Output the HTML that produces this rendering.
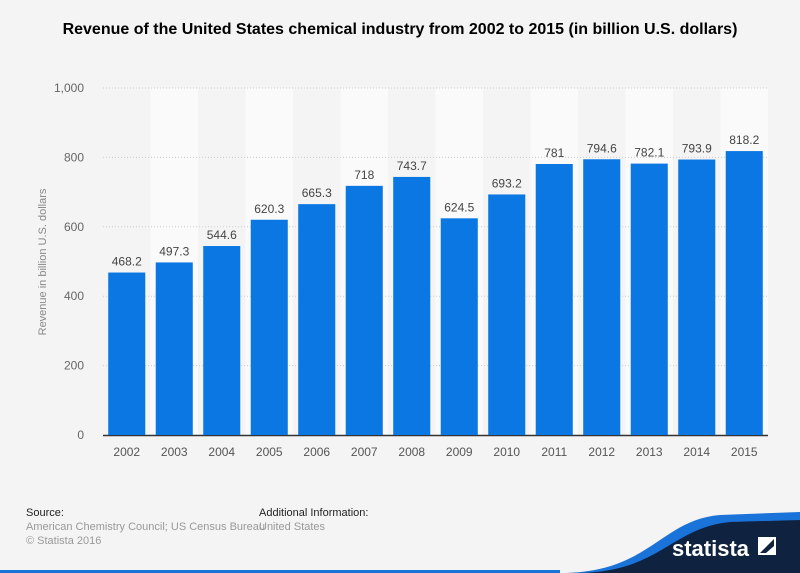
<!DOCTYPE html>
<html><head><meta charset="utf-8"><style>
body{margin:0;width:800px;height:573px;background:#f4f4f4;font-family:"Liberation Sans",sans-serif;overflow:hidden;position:relative}
#title{position:absolute;top:18px;left:40px;width:720px;text-align:center;font-weight:bold;font-size:16px;line-height:24px;color:#000}
.ft{position:absolute;font-size:11px;color:#999;line-height:14px}
.ft b{font-weight:normal;color:#222}
</style></head><body>
<div id="title">Revenue of the United States chemical industry from 2002 to 2015 (in billion U.S. dollars)</div>
<svg id="chart" width="800" height="573" style="position:absolute;top:0;left:0">
<g id="bands"></g><g id="grid"></g><g id="bars"></g><g id="labels"></g>
<text transform="translate(46,262) rotate(-90)" text-anchor="middle" font-size="11" fill="#888">Revenue in billion U.S. dollars</text>
<g>
<path d="M560 573 C650 573 660 520 720 515 L800 512 L800 573 Z" fill="#1a73d9"/>
<path d="M575 573 C660 573 670 528 730 522 L800 520 L800 573 Z" fill="#0f2240"/>
<text x="672" y="556" font-size="22" font-weight="bold" fill="#fff">statista</text>
<rect x="758" y="537" width="18" height="18" fill="#fff"/>
<path d="M760 553 L774 539 L774 546 L766 553 Z" fill="#0f2240"/>
</g>
<rect x="0" y="570" width="560" height="3" fill="#1a73d9"/>
</svg>
<div class="ft" style="left:26px;top:506px"><b>Source:</b><br>American Chemistry Council; US Census Bureau<br>© Statista 2016</div>
<div class="ft" style="left:259px;top:506px"><b>Additional Information:</b><br>United States</div>
<script>
const categories=["2002","2003","2004","2005","2006","2007","2008","2009","2010","2011","2012","2013","2014","2015"];
const values=[468.2,497.3,544.6,620.3,665.3,718,743.7,624.5,693.2,781,794.6,782.1,793.9,818.2];
const valueLabels=["468.2","497.3","544.6","620.3","665.3","718","743.7","624.5","693.2","781","794.6","782.1","793.9","818.2"];
const yTicks=[0,200,400,600,800,1000];
const yTickLabels=["0","200","400","600","800","1,000"];
const NS="http://www.w3.org/2000/svg";
const X0=103,X1=768,Y0=435,Y1=88,YMAX=1000;
const band=(X1-X0)/categories.length;
const x=i=>X0+i*band;
const y=v=>Y0-(v/YMAX)*(Y0-Y1);
function mk(tag,attrs,parent){const e=document.createElementNS(NS,tag);for(const k in attrs)e.setAttribute(k,attrs[k]);document.getElementById(parent).appendChild(e);return e;}
categories.forEach((c,i)=>{
 if(i%2==1){const b=mk('rect',{x:x(i),y:Y1,width:band,height:Y0-Y1,fill:'#fafafa'},'bands');
 
 }
});
yTicks.forEach((t,i)=>{
 if(t>0){const l=mk('line',{x1:X0,x2:X1,y1:y(t),y2:y(t),stroke:'#ccc','stroke-dasharray':'1,2'},'grid');
 
 }
 const tx=mk('text',{x:84,y:y(t)+4,'text-anchor':'end','font-size':12,fill:'#666'},'labels');
 tx.textContent=yTickLabels[i];
 
 
});
values.forEach((v,i)=>{
 const bw=band*0.78,bx=x(i)+(band-bw)/2;
 const r=mk('rect',{x:bx,y:y(v),width:bw,height:Y0-y(v),fill:'#0a77e3'},'bars');
 
 
 const vl=mk('text',{x:x(i)+band/2,y:y(v)-7,'text-anchor':'middle','font-size':12,fill:'#444'},'labels');
 vl.textContent=valueLabels[i];
 
 
 const cl=mk('text',{x:x(i)+band/2,y:456,'text-anchor':'middle','font-size':12,fill:'#555'},'labels');
 cl.textContent=categories[i];
 
 
});
const ax=mk('line',{x1:X0,x2:X1,y1:Y0+0.5,y2:Y0+0.5,stroke:'#333','stroke-width':1.5},'grid');


</script>
</body></html>
